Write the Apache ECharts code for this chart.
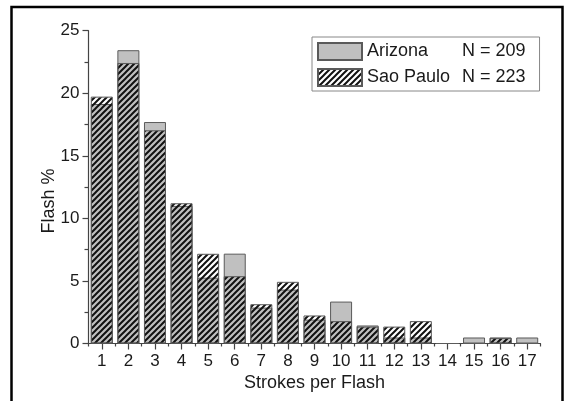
<!DOCTYPE html>
<html>
<head>
<meta charset="utf-8">
<script src="https://cdn.jsdelivr.net/npm/echarts@6/dist/echarts.min.js"></script>
<style>
  html, body { margin: 0; padding: 0; background: #fff; }
  #chart { width: 567px; height: 401px; }
</style>
</head>
<body>
<div id="chart"></div>
<script>
// Number of strokes per flash
const categories = ['1', '2', '3', '4', '5', '6', '7', '8', '9', '10', '11', '12', '13', '14', '15', '16', '17'];

// Percentage of flashes with the given stroke count
const arizona = [19.14, 23.44, 17.70, 11.00, 5.26, 7.18, 2.87, 4.31, 1.91, 3.35, 1.44, 0.48, 0.48, 0, 0.48, 0.48, 0.48];
const saoPaulo = [19.73, 22.42, 17.04, 11.21, 7.17, 5.38, 3.14, 4.93, 2.24, 1.79, 1.35, 1.35, 1.79, 0, 0, 0.45, 0];

const arizonaN = 209;
const saoPauloN = 223;

const yTicks = { min: 0, max: 25, interval: 5 };

// Diagonal hatch tile used for the Sao Paulo bars
function hatchTile() {
  const c = document.createElement('canvas');
  c.width = 6; c.height = 6;
  const ctx = c.getContext('2d');
  ctx.strokeStyle = '#111';
  ctx.lineWidth = 2;
  ctx.lineCap = 'square';
  ctx.beginPath();
  ctx.moveTo(-1, 7); ctx.lineTo(7, -1);
  ctx.moveTo(-1, 1); ctx.lineTo(1, -1);
  ctx.moveTo(5, 7); ctx.lineTo(7, 5);
  ctx.stroke();
  return c;
}

const FONT = '"Liberation Sans", Arial, Helvetica, sans-serif';
const chart = echarts.init(document.getElementById('chart'), null, { renderer: 'canvas' });

chart.setOption({
  backgroundColor: '#fff',
  animation: false,
  textStyle: { fontFamily: FONT },
  grid: { left: 88.5, right: 26.5, top: 30.7, bottom: 57.5, containLabel: false },
  legend: {
    orient: 'vertical',
    left: 312,
    top: 37,
    padding: [5, 14, 4, 5],
    icon: 'rect',
    itemWidth: 44,
    itemHeight: 17,
    itemGap: 7,
    borderColor: '#888',
    borderWidth: 1,
    backgroundColor: '#fff',
    data: ['Arizona', 'Sao Paulo'],
    formatter: function (name) {
      const n = name === 'Arizona' ? arizonaN : saoPauloN;
      return '{a|' + name + '}{n|N = ' + n + '}';
    },
    textStyle: {
      fontFamily: FONT,
      fontSize: 18,
      color: '#1a1a1a',
      rich: {
        a: { fontFamily: FONT, fontSize: 18, color: '#1a1a1a', width: 95 },
        n: { fontFamily: FONT, fontSize: 18, color: '#1a1a1a' }
      }
    }
  },
  xAxis: [
    {
      type: 'category',
      data: categories,
      boundaryGap: true,
      name: 'Strokes per Flash',
      nameLocation: 'middle',
      nameGap: 27,
      nameTextStyle: { fontFamily: FONT, fontSize: 18, color: '#1a1a1a' },
      axisLine: { show: true, lineStyle: { color: '#444', width: 1.2 } },
      axisTick: { show: true, alignWithLabel: true, length: 6, lineStyle: { color: '#444', width: 1.2 } },
      axisLabel: { fontFamily: FONT, fontSize: 17, color: '#1a1a1a', margin: 9, interval: 0 },
      splitLine: { show: false }
    },
    {
      type: 'category',
      data: categories,
      boundaryGap: true,
      position: 'bottom',
      axisLine: { show: false },
      axisTick: { show: true, alignWithLabel: false, length: 3, lineStyle: { color: '#444', width: 1.2 } },
      axisLabel: { show: false },
      splitLine: { show: false }
    }
  ],
  yAxis: {
    type: 'value',
    min: yTicks.min,
    max: yTicks.max,
    interval: yTicks.interval,
    axisLine: { show: true, lineStyle: { color: '#444', width: 1.2 } },
    axisTick: { show: true, length: 6, lineStyle: { color: '#444', width: 1.2 } },
    minorTick: { show: true, splitNumber: 2, length: 4, lineStyle: { color: '#444', width: 1.2 } },
    axisLabel: { fontFamily: FONT, fontSize: 17, color: '#1a1a1a', margin: 9 },
    splitLine: { show: false },
    minorSplitLine: { show: false }
  },
  series: [
    {
      name: 'Arizona',
      type: 'bar',
      xAxisIndex: 0,
      data: arizona,
      barWidth: 22,
      barGap: '-100%',
      itemStyle: { color: '#c0c0c0', borderColor: '#5a5a5a', borderWidth: 1 }
    },
    {
      name: 'Sao Paulo',
      type: 'bar',
      xAxisIndex: 0,
      data: saoPaulo,
      barWidth: 22,
      barGap: '-100%',
      itemStyle: {
        color: { image: hatchTile(), repeat: 'repeat' },
        borderColor: '#5a5a5a',
        borderWidth: 1
      }
    }
  ],
  graphic: [
    {
      type: 'rect',
      silent: true,
      shape: { x: 11.5, y: 7, width: 551, height: 420 },
      style: { fill: 'none', stroke: '#000', lineWidth: 2.5 }
    },
    {
      type: 'text',
      silent: true,
      x: 49.5,
      y: 201,
      rotation: Math.PI / 2,
      style: {
        text: 'Flash %',
        fontFamily: FONT,
        fontSize: 18,
        fill: '#1a1a1a',
        textAlign: 'center',
        textVerticalAlign: 'middle'
      }
    }
  ]
});
</script>
</body>
</html>
